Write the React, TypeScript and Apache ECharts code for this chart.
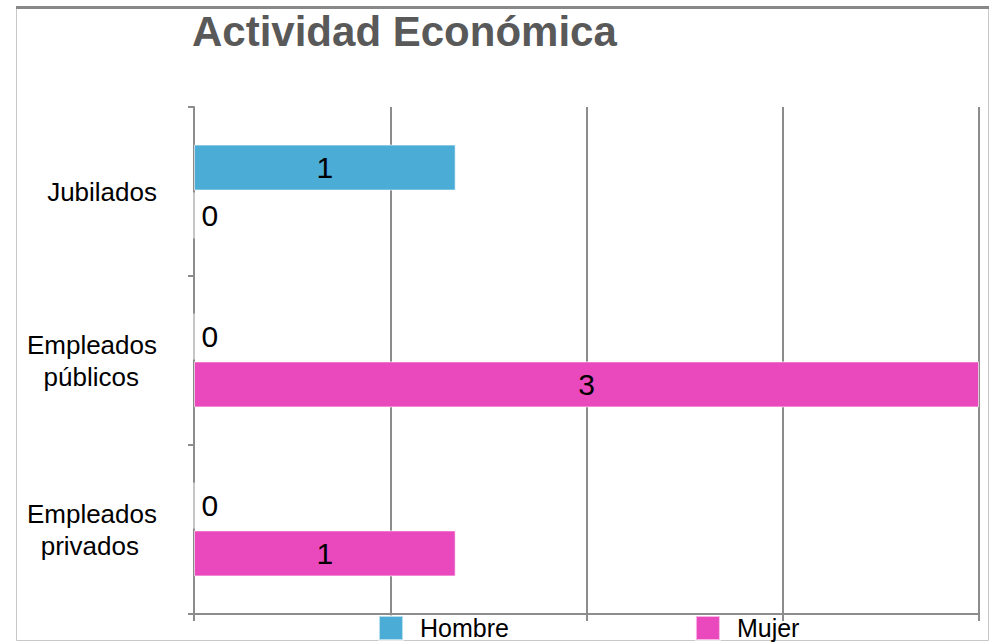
import React, { useEffect, useRef } from "react";
import * as echarts from "echarts";

const categories = ["Jubilados", "Empleados públicos", "Empleados privados"];
const hombre = [1, 0, 0];
const mujer = [0, 3, 1];
const seriesNames = ["Hombre", "Mujer"];
const titleText = "Actividad Económica";

const FONT = "'Liberation Sans', Arial, sans-serif";
const GRID = "#8c8c8c";

export default function App() {
  const ref = useRef<HTMLDivElement>(null);
  useEffect(() => {
    if (!ref.current) return;
    const chart = echarts.init(ref.current, undefined, { renderer: "svg" });
    const labelFor = (v: number) =>
      v === 0
        ? { show: true, position: "insideLeft", distance: 8, fontSize: 30, color: "#000", fontFamily: FONT }
        : { show: true, position: "inside", fontSize: 30, color: "#000", fontFamily: FONT };
    const mk = (name: string, vals: number[], color: string) => ({
      name,
      type: "bar",
      barWidth: 46,
      barGap: "4%",
      itemStyle: { color, borderColor: "rgba(255,255,255,0.6)", borderWidth: 1 },
      data: vals.map((v) => ({ value: v, label: labelFor(v) })),
    });
    chart.setOption({
      animation: false,
      textStyle: { fontFamily: FONT },
      title: {
        text: titleText,
        left: 192,
        top: 10,
        padding: [0, 0, 0, 0],
        textStyle: { fontSize: 42, fontWeight: "bold", color: "#595959", fontFamily: FONT },
      },
      graphic: [
        {
          type: "rect",
          shape: { x: 16.5, y: 7.5, width: 972, height: 633 },
          style: { fill: "none", stroke: "#c8c8c8", lineWidth: 1 },
          z: -1,
        },
        {
          type: "line",
          shape: { x1: 16, y1: 7.5, x2: 989, y2: 7.5 },
          style: { stroke: "#888", lineWidth: 3 },
        },
      ],
      legend: {
        data: seriesNames,
        left: 378,
        top: 615,
        padding: 0,
        icon: "rect",
        itemWidth: 24,
        itemHeight: 24,
        itemGap: 186,
        textStyle: { fontSize: 25, lineHeight: 24, color: "#000", fontFamily: FONT, padding: [0, 0, 0, 12] },
      },
      grid: { left: 194, right: 15, top: 107, bottom: 29, containLabel: false },
      xAxis: {
        type: "value",
        min: 0,
        max: 3,
        interval: 0.75,
        axisLabel: { show: false },
        axisLine: { show: true, lineStyle: { color: GRID, width: 2 } },
        axisTick: { show: true, length: 7, lineStyle: { color: GRID, width: 2 } },
        splitLine: { show: true, lineStyle: { color: GRID, width: 2 } },
      },
      yAxis: {
        type: "category",
        inverse: true,
        data: categories,
        axisLine: { show: true, lineStyle: { color: GRID, width: 2 } },
        axisTick: { show: true, length: 6, lineStyle: { color: GRID, width: 2 } },
        axisLabel: {
          margin: 37,
          fontSize: 26,
          lineHeight: 32,
          color: "#000",
          fontFamily: FONT,
          formatter: (v: string) => {
            const parts = v.split(" ");
            if (parts.length === 1) return v;
            return parts[0] + "\n{p|" + parts[1] + "}";
          },
          rich: {
            p: { fontSize: 26, lineHeight: 32, color: "#000", fontFamily: FONT, padding: [0, 18, 0, 0] },
          },
        },
      },
      series: [mk(seriesNames[0], hombre, "#4BACD6"), mk(seriesNames[1], mujer, "#EA49BE")],
    });
    return () => chart.dispose();
  }, []);
  return (
    <div
      ref={ref}
      style={{ position: "absolute", left: 0, top: 0, width: 994, height: 643, background: "#fff" }}
    />
  );
}
